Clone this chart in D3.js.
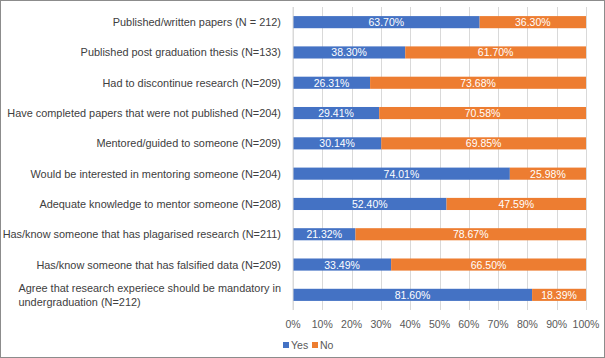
<!DOCTYPE html>
<html lang="en">
<head>
<meta charset="utf-8">
<script src="https://cdn.jsdelivr.net/npm/d3@7/dist/d3.min.js"></script>
<style>
  body { margin: 0; background: #fff; }
  text { font-family: "Liberation Sans", Arial, sans-serif; }
  .grid line { stroke: #d9d9d9; shape-rendering: crispEdges; }
  .grid path { stroke-width: 0; }
  .cat { fill: #404040; }
  .tick-lab { fill: #595959; font-size: 10.5px; }
  .val { fill: #fff; font-size: 10.5px; }
</style>
</head>
<body>
<script>
var w = 605, h = 358;

var categories = [
  "Published/written papers (N = 212)",
  "Published post graduation thesis (N=133)",
  "Had to discontinue research (N=209)",
  "Have completed papers that were not published (N=204)",
  "Mentored/guided to someone (N=209)",
  "Would be interested in mentoring someone (N=204)",
  "Adequate knowledge to mentor someone (N=208)",
  "Has/know someone that has plagarised research (N=211)",
  "Has/know someone that has falsified data (N=209)",
  "Agree that research experiece should be mandatory in|undergraduation (N=212)"
];
var yesValues = [63.70, 38.30, 26.31, 29.41, 30.14, 74.01, 52.40, 21.32, 33.49, 81.60];
var noValues  = [36.30, 61.70, 73.68, 70.58, 69.85, 25.98, 47.59, 78.67, 66.50, 18.39];
var tickValues = [0, 10, 20, 30, 40, 50, 60, 70, 80, 90, 100];
var seriesNames = ["Yes", "No"];
var colors = ["#4472c4", "#ed7d31"];

var svg = d3.select("body").append("svg")
  .attr("width", w).attr("height", h);

// outer frame
svg.append("rect")
  .attr("x", 0.5).attr("y", 0.5)
  .attr("width", w - 1).attr("height", h - 1)
  .attr("fill", "none").attr("stroke", "#8c8c8c");

var xScale = d3.scaleLinear().domain([0, 100]).range([293, 586]);
var yScale = d3.scaleBand().domain(d3.range(categories.length))
  .range([7, 310]).paddingInner(0.6).paddingOuter(0.3);

// vertical gridlines
svg.append("g")
  .attr("class", "grid")
  .attr("transform", "translate(0,310)")
  .call(d3.axisBottom(xScale).tickValues(tickValues).tickSize(-303).tickFormat(""));

// tick labels
svg.append("g").selectAll("text")
  .data(tickValues)
  .enter().append("text")
  .attr("class", "tick-lab")
  .attr("x", function (d) { return xScale(d); })
  .attr("y", 328)
  .attr("text-anchor", "middle")
  .text(function (d) { return d + "%"; });

// stacked rows
var segs = [];
categories.forEach(function (c, i) {
  segs.push({ i: i, s: 0, x0: 0, x1: yesValues[i], v: yesValues[i] });
  segs.push({ i: i, s: 1, x0: yesValues[i], x1: 100, v: noValues[i] });
});

svg.append("g").selectAll("rect")
  .data(segs)
  .enter().append("rect")
  .attr("x", function (d) { return xScale(d.x0); })
  .attr("width", function (d) { return xScale(d.x1) - xScale(d.x0); })
  .attr("y", function (d) { return yScale(d.i); })
  .attr("height", yScale.bandwidth())
  .attr("fill", function (d) { return colors[d.s]; });

svg.append("g").selectAll("text")
  .data(segs)
  .enter().append("text")
  .attr("class", "val")
  .attr("x", function (d) { return (xScale(d.x0) + xScale(d.x1)) / 2; })
  .attr("y", function (d) { return yScale(d.i) + yScale.bandwidth() / 2 + 4; })
  .attr("text-anchor", "middle")
  .text(function (d) { return d.v.toFixed(2) + "%"; });

// category labels - font size chosen so the longest line fits the left margin
var labX = 281, labLeft = 7;
var probe = svg.append("text").attr("class", "cat").style("font-size", "12px")
  .text(categories[3]);
var fs = 12 * (labX - labLeft) / probe.node().getComputedTextLength();
probe.remove();

categories.forEach(function (c, i) {
  var cy = yScale(i) + yScale.bandwidth() / 2;
  var parts = c.split("|");
  if (parts.length === 1) {
    svg.append("text").attr("class", "cat").style("font-size", fs + "px")
      .attr("x", labX).attr("y", cy + 4)
      .attr("text-anchor", "end")
      .text(c);
  } else {
    var t1 = svg.append("text").attr("class", "cat").style("font-size", fs + "px")
      .attr("x", labX).attr("y", cy - 3)
      .attr("text-anchor", "end")
      .text(parts[0]);
    var left = labX - t1.node().getComputedTextLength();
    svg.append("text").attr("class", "cat").style("font-size", fs + "px")
      .attr("x", left).attr("y", cy + 11.5)
      .text(parts[1]);
  }
});

// y axis line
svg.append("line")
  .attr("x1", xScale(0)).attr("x2", xScale(0))
  .attr("y1", 7).attr("y2", 310)
  .attr("stroke", "#d9d9d9");

// legend
var leg = svg.append("g").selectAll("g")
  .data(seriesNames)
  .enter().append("g")
  .attr("transform", function (d, i) { return "translate(" + (283 + i * 29) + ",346)"; });
leg.append("rect").attr("x", 0).attr("y", -4).attr("width", 6).attr("height", 6)
  .attr("fill", function (d, i) { return colors[i]; });
leg.append("text").attr("class", "tick-lab")
  .attr("x", 8).attr("y", 3).text(function (d) { return d; });
</script>
</body>
</html>
